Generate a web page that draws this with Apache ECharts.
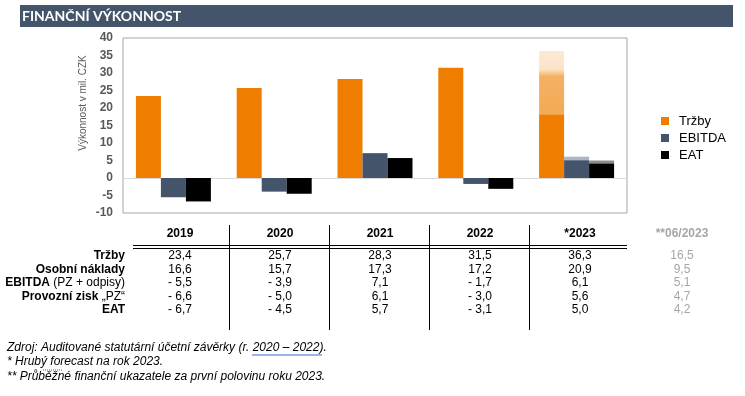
<!DOCTYPE html>
<html style="height: 100%">
<head>
    <meta charset="utf-8">
    <title>Finanční výkonnost</title>
    <script src="https://cdn.jsdelivr.net/npm/echarts@6/dist/echarts.min.js"></script>
</head>
<body style="height: 100%; margin: 0; background: #fff">
<div id="container" style="width: 745px; height: 396px"></div>
<script type="text/javascript">
    // data
    var years = ['2019', '2020', '2021', '2022', '*2023'];
    var halfYearLabel = '**06/2023';
    var trzby = [23.4, 25.7, 28.3, 31.5, 36.3];
    var osobniNaklady = [16.6, 15.7, 17.3, 17.2, 20.9];
    var ebitda = [-5.5, -3.9, 7.1, -1.7, 6.1];
    var provozniZisk = [-6.6, -5.0, 6.1, -3.0, 5.6];
    var eat = [-6.7, -4.5, 5.7, -3.1, 5.0];
    var halfYear = [16.5, 9.5, 5.1, 4.7, 4.2];   // Tržby, Os. náklady, EBITDA, PZ, EAT
    var trzbyBase2023 = 18.2;                    // plný oranžový díl sloupce 2023
    var footnotes = [
        'Zdroj: Auditované statutární účetní závěrky (r. 2020 – 2022).',
        '* Hrubý forecast na rok 2023.',
        '** Průběžné finanční ukazatele za první polovinu roku 2023.'
    ];

    var ORANGE = '#EE7D00', SLATE = '#44546A';
    var dom = document.getElementById('container');
    var myChart = echarts.init(dom);

    function fmt(v) {
        var s = Math.abs(v).toFixed(1).replace('.', ',');
        return v < 0 ? '- ' + s : s;
    }
    function last(arr, v) {
        return arr.map(function (x, i) { return i === arr.length - 1 ? v(x) : x; });
    }
    function onlyLast(arr, v) {
        return arr.map(function (x, i) { return i === arr.length - 1 ? v(x) : '-'; });
    }

    // table
    var colX = [180, 280, 380, 480, 580, 682];
    var rowY = [256, 269.5, 283, 296.5, 310];
    var rows = [
        {label: '{b|Tržby}', values: trzby},
        {label: '{b|Osobní náklady}', values: osobniNaklady},
        {label: '{b|EBITDA} {n|(PZ + odpisy)}', values: ebitda},
        {label: '{b|Provozní zisk} {n|„PZ“}', values: provozniZisk},
        {label: '{b|EAT}', values: eat}
    ];
    var txtFont = 'Liberation Sans, Arial, sans-serif';
    var graphic = [
        {type: 'rect', shape: {x: 20, y: 5, width: 713, height: 22}, style: {fill: SLATE}},
        {type: 'text', x: 22, y: 16, style: {text: 'FINANČNÍ VÝKONNOST', fill: '#fff',
            font: 'bold 14px Lato, sans-serif', verticalAlign: 'middle'}},
        {type: 'text', x: 83, y: 103, rotation: Math.PI / 2, style: {text: 'Výkonnost v mil. CZK',
            fill: '#595959', font: '10px ' + txtFont, align: 'center', verticalAlign: 'middle'}},
        {type: 'line', shape: {x1: 133, y1: 245.5, x2: 627, y2: 245.5}, style: {stroke: '#000', lineWidth: 1}},
        {type: 'line', shape: {x1: 133, y1: 248.5, x2: 627, y2: 248.5}, style: {stroke: '#000', lineWidth: 1}}
    ];
    [229.5, 329.5, 429.5, 529.5].forEach(function (x) {
        graphic.push({type: 'line', shape: {x1: x, y1: 225, x2: x, y2: 330}, style: {stroke: '#000', lineWidth: 1}});
    });
    years.forEach(function (y, i) {
        graphic.push({type: 'text', x: colX[i], y: 234, style: {text: y, fill: '#000',
            font: 'bold 12px ' + txtFont, align: 'center', verticalAlign: 'middle'}});
    });
    graphic.push({type: 'text', x: colX[5], y: 234, style: {text: halfYearLabel, fill: '#A6A6A6',
        font: 'bold 12px ' + txtFont, align: 'center', verticalAlign: 'middle'}});
    rows.forEach(function (r, j) {
        graphic.push({type: 'text', x: 125, y: rowY[j], style: {text: r.label, align: 'right', verticalAlign: 'middle',
            rich: {
                b: {font: 'bold 12px ' + txtFont, fill: '#000'},
                n: {font: '12px ' + txtFont, fill: '#000'}
            }}});
        r.values.forEach(function (v, i) {
            graphic.push({type: 'text', x: colX[i], y: rowY[j], style: {text: fmt(v), fill: '#000',
                font: '12px ' + txtFont, align: 'center', verticalAlign: 'middle'}});
        });
        graphic.push({type: 'text', x: colX[5], y: rowY[j], style: {text: fmt(halfYear[j]), fill: '#A6A6A6',
            font: '12px ' + txtFont, align: 'center', verticalAlign: 'middle'}});
    });
    footnotes.forEach(function (t, i) {
        graphic.push({type: 'text', x: 7, y: [348, 362, 377][i], style: {text: t, fill: '#000',
            font: 'italic 12px ' + txtFont, verticalAlign: 'middle'}});
    });
    // kontrola pravopisu z originálu
    graphic.push({type: 'polyline', shape: {points: [[252, 355], [322, 355]]}, style: {stroke: '#7A9BE0', lineWidth: 1.5}});
    graphic.push({type: 'line', shape: {x1: 43, y1: 370, x2: 62, y2: 370}, style: {stroke: '#E03030', lineWidth: 1, lineDash: [1, 1]}});

    var barBase = {type: 'bar', barWidth: 25, barGap: '0%', barCategoryGap: '25%'};
    var option = {
        backgroundColor: '#fff',
        animation: false,
        textStyle: {fontFamily: txtFont},
        grid: {left: 123, right: 118, top: 38, bottom: 183, show: true, borderColor: '#A6A6A6', borderWidth: 1},
        legend: {
            orient: 'vertical',
            left: 656,
            top: 108,
            data: ['Tržby', 'EBITDA', 'EAT'],
            icon: 'rect',
            itemWidth: 8,
            itemHeight: 8,
            itemGap: 1,
            textStyle: {fontSize: 13, color: '#000', lineHeight: 16, padding: [0, 0, 0, 5]}
        },
        xAxis: {
            type: 'category',
            data: years,
            axisLabel: {show: false},
            axisTick: {show: false},
            axisLine: {onZero: true, lineStyle: {color: '#D9D9D9', width: 1}}
        },
        yAxis: {
            type: 'value',
            min: -10,
            max: 40,
            interval: 5,
            axisLine: {show: false},
            axisTick: {show: false},
            splitLine: {show: false},
            axisLabel: {margin: 10, color: '#595959', fontWeight: 'bold', fontSize: 12}
        },
        series: [
            Object.assign({name: 'Tržby', stack: 't', itemStyle: {color: ORANGE},
                data: last(trzby, function () { return trzbyBase2023; })}, barBase),
            Object.assign({name: 'Tržby forecast', stack: 't', itemStyle: {color: new echarts.graphic.LinearGradient(0, 0, 0, 1, [
                    {offset: 0, color: '#FCE8D2'},
                    {offset: 0.29, color: '#FCE4C9'},
                    {offset: 0.4, color: '#F5B064'},
                    {offset: 1, color: '#F4AA56'}
                ])},
                data: onlyLast(trzby, function (v) { return +(v - trzbyBase2023).toFixed(1); })}, barBase),
            Object.assign({name: 'EBITDA', stack: 'e', itemStyle: {color: SLATE},
                data: last(ebitda, function () { return halfYear[2]; })}, barBase),
            Object.assign({name: 'EBITDA forecast', stack: 'e', itemStyle: {color: '#ADB5C0'},
                data: onlyLast(ebitda, function (v) { return +(v - halfYear[2]).toFixed(1); })}, barBase),
            Object.assign({name: 'EAT', stack: 'a', itemStyle: {color: '#000'},
                data: last(eat, function () { return halfYear[4]; })}, barBase),
            Object.assign({name: 'EAT forecast', stack: 'a', itemStyle: {color: '#8C8C8C'},
                data: onlyLast(eat, function (v) { return +(v - halfYear[4]).toFixed(1); })}, barBase)
        ],
        graphic: graphic
    };
    myChart.setOption(option);
</script>
</body>
</html>
